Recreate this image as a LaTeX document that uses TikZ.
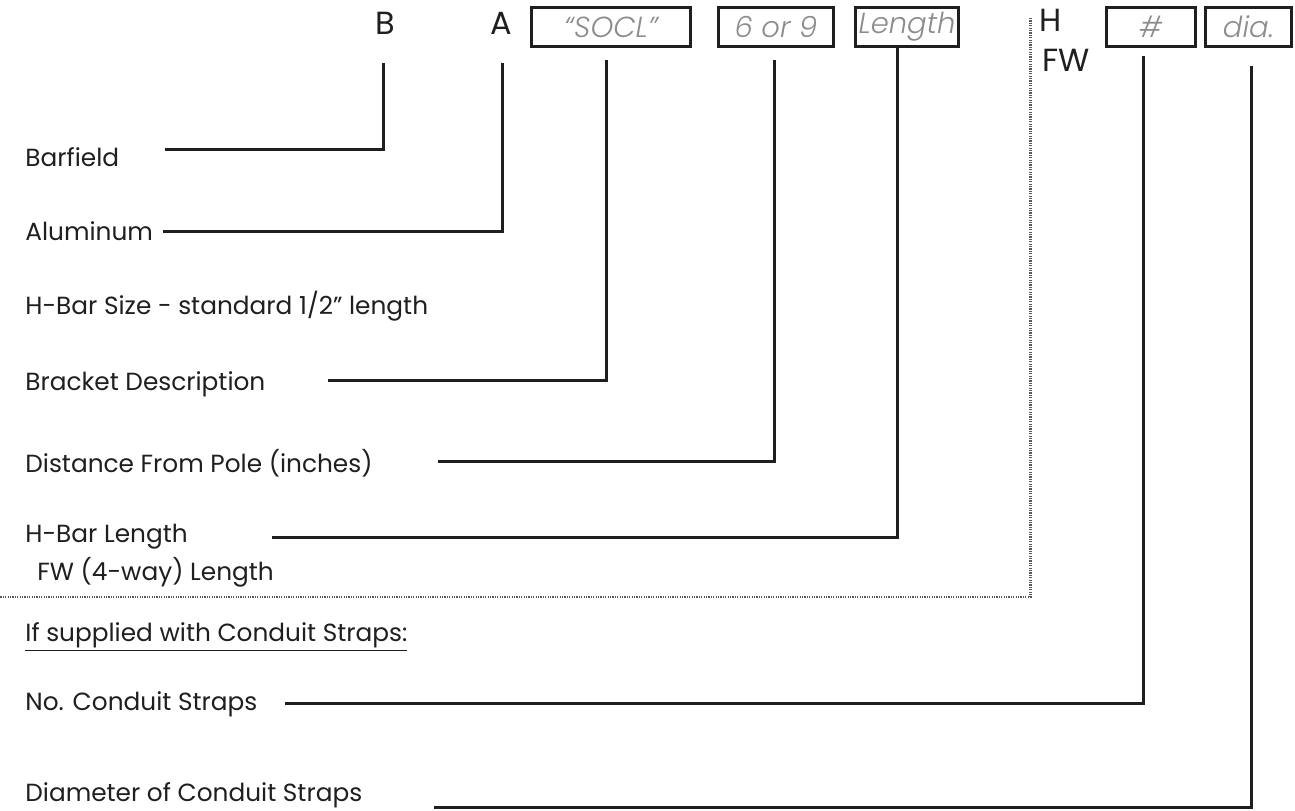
\documentclass[tikz,border=0pt]{standalone}
\usepackage{fontspec}
\setmainfont{Poppins}
\newfontfamily\boxfont{Poppins Light}[ItalicFont={Poppins Light Italic}]
\begin{document}
\begin{tikzpicture}[x=0.5pt,y=-0.5pt,
  lbl/.style={anchor=west, inner sep=0pt, font=\fontsize{12.4}{15}\selectfont, text=black!88},
  toplbl/.style={inner sep=0pt, font=\fontsize{16}{18}\selectfont, text=black!88},
  fieldbox/.style={draw=black!88, line width=1.5pt, minimum height=19.5pt, inner sep=0pt,
     font=\boxfont\itshape\fontsize{14.5}{16}\selectfont, text=black!45},
  conn/.style={draw=black!88, line width=1.5pt},
  dotline/.style={draw=black!65, line width=1.3pt, dash pattern=on 0.6pt off 0.6pt}]
\useasboundingbox (0,0) rectangle (1295,810);
% top letters
\node[toplbl] (B) at (385,23) {B};
\node[toplbl] (A) at (501,23) {A};
\node[toplbl] (H) at (1051,20) {H};
\node[toplbl] (FW) at (1066,60) {FW};
% boxes
\node[fieldbox, minimum width=79.5pt] (socl) at (611,27) {“SOCL”};
\node[fieldbox, minimum width=57.5pt] (sixnine) at (776,27) {6 or 9};
\node[fieldbox, minimum width=51.5pt] (len) at (907,27) {Length};
\node[fieldbox, minimum width=44.5pt] (hash) at (1151,27) {\#};
\node[fieldbox, minimum width=43pt] (dia) at (1248.5,27) {dia.};
% labels
\node[lbl] (barfield) at (25,157) {Barfield};
\node[lbl] (alum) at (25,231) {Aluminum};
\node[lbl] (hsize) at (25,306) {H-Bar Size - standard 1/2” length};
\node[lbl] (bdesc) at (25,384) {Bracket Description};
\node[lbl] (dist) at (25,463) {Distance From Pole (inches)};
\node[lbl] (hlen) at (25,537) {H-Bar Length};
\node[lbl] (fwlen) at (37,572) {FW (4-way) Length};
\node[lbl] (ifsup) at (25,637) {\underline{If supplied with Conduit Straps:}};
\node[lbl] (nostr) at (25,704) {No. Conduit Straps};
\node[lbl] (diastr) at (25,795) {Diameter of Conduit Straps};
% free ends
\coordinate (e1) at (165,149);
\coordinate (e2) at (163,231);
\coordinate (e3) at (328,380);
\coordinate (e4) at (438,461);
\coordinate (e5) at (272,537);
\coordinate (e6) at (0,597);
\coordinate (e7) at (285,703);
\coordinate (e8) at (434,807);
% connectors
\draw[conn] ([xshift=-1pt,yshift=-20pt]B.center) |- (e1);
\draw[conn] ([xshift=0.5pt,yshift=-20pt]A.center) |- (e2);
\draw[conn] ([xshift=-2.5pt,yshift=-6pt]socl.south) |- (e3);
\draw[conn] ([xshift=-1pt,yshift=-6pt]sixnine.south) |- (e4);
\draw[conn] ([xshift=-5pt]len.south) |- (e5);
\draw[dotline] ([xshift=-4.5pt,yshift=1pt]H.west) |- (e6);
\draw[conn] ([xshift=-4pt,yshift=-4pt]hash.south) |- (e7);
\draw[conn] ([xshift=1.25pt,yshift=-9pt]dia.south) |- (e8);
\end{tikzpicture}
\end{document}
